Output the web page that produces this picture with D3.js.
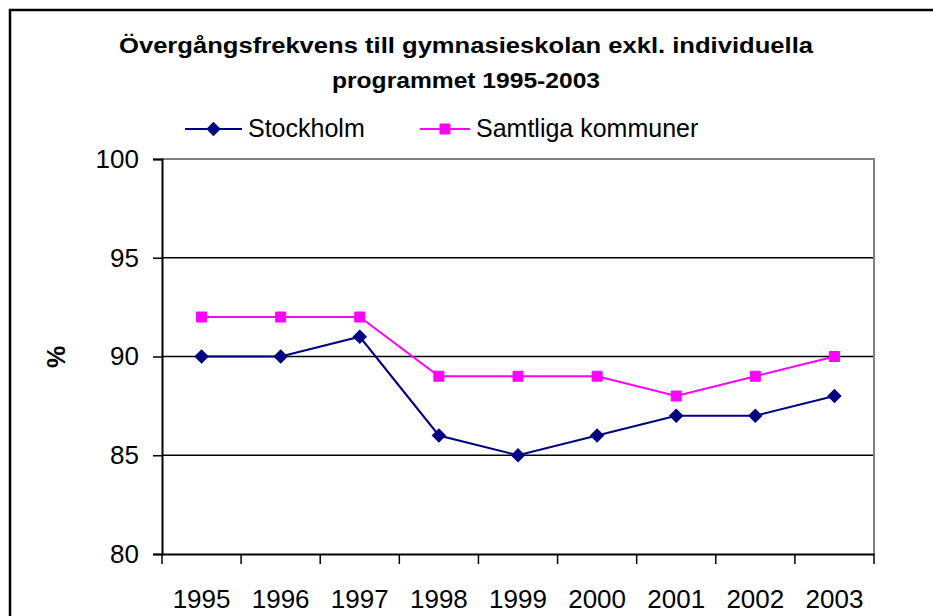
<!DOCTYPE html>
<html>
<head>
<meta charset="utf-8">
<script src="https://cdnjs.cloudflare.com/ajax/libs/d3/7.8.5/d3.min.js"></script>
<style>
body { margin: 0; background: #fff; }
svg { display: block; }
text { font-family: "Liberation Sans", Arial, sans-serif; }
</style>
</head>
<body>
<div id="chart"></div>
<script>
// chart data
var years = ["1995", "1996", "1997", "1998", "1999", "2000", "2001", "2002", "2003"];
var stockholm = [90, 90, 91, 86, 85, 86, 87, 87, 88];
var samtliga = [92, 92, 92, 89, 89, 89, 88, 89, 90];
var yTicks = [80, 85, 90, 95, 100];
var gridValues = [85, 90, 95];
var titleLines = ["Övergångsfrekvens till gymnasieskolan exkl. individuella", "programmet 1995-2003"];

var W = 933, H = 616;
var plot = {left: 162, right: 874, top: 159, bottom: 554};

var svg = d3.select("#chart").append("svg")
	.attr("width", W)
	.attr("height", H);

// outer chart frame (only top and left are inside the picture)
svg.append("rect")
	.attr("x", 10).attr("y", 10)
	.attr("width", W + 20).attr("height", H + 20)
	.attr("fill", "#fff")
	.attr("stroke", "#000")
	.attr("stroke-width", 2.5);

var x = d3.scaleBand().domain(years).range([plot.left, plot.right]);
var y = d3.scaleLinear().domain([80, 100]).range([plot.bottom, plot.top]);

// title, stretched a bit like the original
var titleWidths = [694, 268];
svg.append("g").selectAll("text").data(titleLines).enter()
	.append("text")
	.attr("x", function(d, i) { return 466 - titleWidths[i] / 2; })
	.attr("y", function(d, i) { return 53 + i * 35; })
	.attr("font-size", 22)
	.attr("font-weight", "bold")
	.attr("textLength", function(d, i) { return titleWidths[i]; })
	.attr("lengthAdjust", "spacingAndGlyphs")
	.text(function(d) { return d; });

// grid lines
svg.append("g").selectAll("line").data(gridValues).enter()
	.append("line")
	.attr("x1", plot.left).attr("x2", plot.right)
	.attr("y1", function(d) { return y(d); })
	.attr("y2", function(d) { return y(d); })
	.attr("stroke", "#000")
	.attr("stroke-width", 1.5);

// plot area border, top and right are grey
svg.append("path")
	.attr("d", "M" + plot.left + "," + y(100) + "H" + plot.right + "V" + plot.bottom)
	.attr("fill", "none")
	.attr("stroke", "#808080")
	.attr("stroke-width", 2);

// y axis
var yAxis = svg.append("g")
	.attr("transform", "translate(" + plot.left + ",0)")
	.call(d3.axisLeft(y).tickValues(yTicks).tickSize(9).tickPadding(14));
yAxis.select(".domain").attr("stroke-width", 2);
yAxis.selectAll(".tick line").attr("stroke-width", 1.5);
yAxis.selectAll(".tick text")
	.attr("font-size", 26)
	.attr("font-family", "Liberation Sans, Arial, sans-serif")
	.attr("fill", "#000");

// x axis: ticks sit on category boundaries
var xAxis = svg.append("g")
	.attr("transform", "translate(0," + plot.bottom + ")")
	.call(d3.axisBottom(x).tickSize(0).tickPadding(36));
xAxis.select(".domain").attr("stroke-width", 2);
xAxis.selectAll(".tick text")
	.attr("font-size", 26)
	.attr("font-family", "Liberation Sans, Arial, sans-serif")
	.attr("fill", "#000");
var bounds = years.map(function(d) { return x(d); }).concat([plot.right]);
xAxis.selectAll(".bound").data(bounds).enter()
	.append("line")
	.attr("class", "bound")
	.attr("x1", function(d) { return d; })
	.attr("x2", function(d) { return d; })
	.attr("y1", 0).attr("y2", 10)
	.attr("stroke", "#000")
	.attr("stroke-width", 1.5);

// y axis label
svg.append("text")
	.attr("transform", "translate(65,357) rotate(-90)")
	.attr("text-anchor", "middle")
	.attr("font-size", 25)
	.attr("font-weight", "bold")
	.text("%");

var cx = function(d, i) { return x(years[i]) + x.bandwidth() / 2; };
var line = d3.line()
	.x(function(d, i) { return cx(d, i); })
	.y(function(d) { return y(d); });

// diamond = square rotated by 45 degrees
var series = [
	{name: "Stockholm", values: stockholm, color: "#000080", size: 85, rot: 45, width: 2},
	{name: "Samtliga kommuner", values: samtliga, color: "#ff00ff", size: 100, rot: 0, width: 2}
];
var marker = function(s) { return d3.symbol().type(d3.symbolSquare).size(s.size)(); };

series.forEach(function(s) {
	svg.append("path")
		.datum(s.values)
		.attr("d", line)
		.attr("fill", "none")
		.attr("stroke", s.color)
		.attr("stroke-width", s.width);
	svg.append("g").selectAll("path").data(s.values).enter()
		.append("path")
		.attr("d", marker(s))
		.attr("transform", function(d, i) { return "translate(" + cx(d, i) + "," + y(d) + ") rotate(" + s.rot + ")"; })
		.attr("fill", s.color)
		.attr("stroke", s.color)
		.attr("stroke-width", 1);
});

// legend
var legendX = [185, 420];
var legendLen = [57, 50];
var legend = svg.append("g").selectAll("g").data(series).enter()
	.append("g")
	.attr("transform", function(d, i) { return "translate(" + legendX[i] + ",129)"; });
legend.append("line")
	.attr("x1", 0).attr("x2", function(d, i) { return legendLen[i]; })
	.attr("stroke", function(d) { return d.color; })
	.attr("stroke-width", function(d) { return d.width; });
legend.append("path")
	.attr("d", function(d) { return marker(d); })
	.attr("transform", function(d, i) { return "translate(" + (legendLen[i] / 2) + ",0) rotate(" + d.rot + ")"; })
	.attr("fill", function(d) { return d.color; })
	.attr("stroke", function(d) { return d.color; });
legend.append("text")
	.attr("x", function(d, i) { return legendLen[i] + 6; })
	.attr("y", 8)
	.attr("font-size", 25)
	.text(function(d) { return d.name; });
</script>
</body>
</html>
